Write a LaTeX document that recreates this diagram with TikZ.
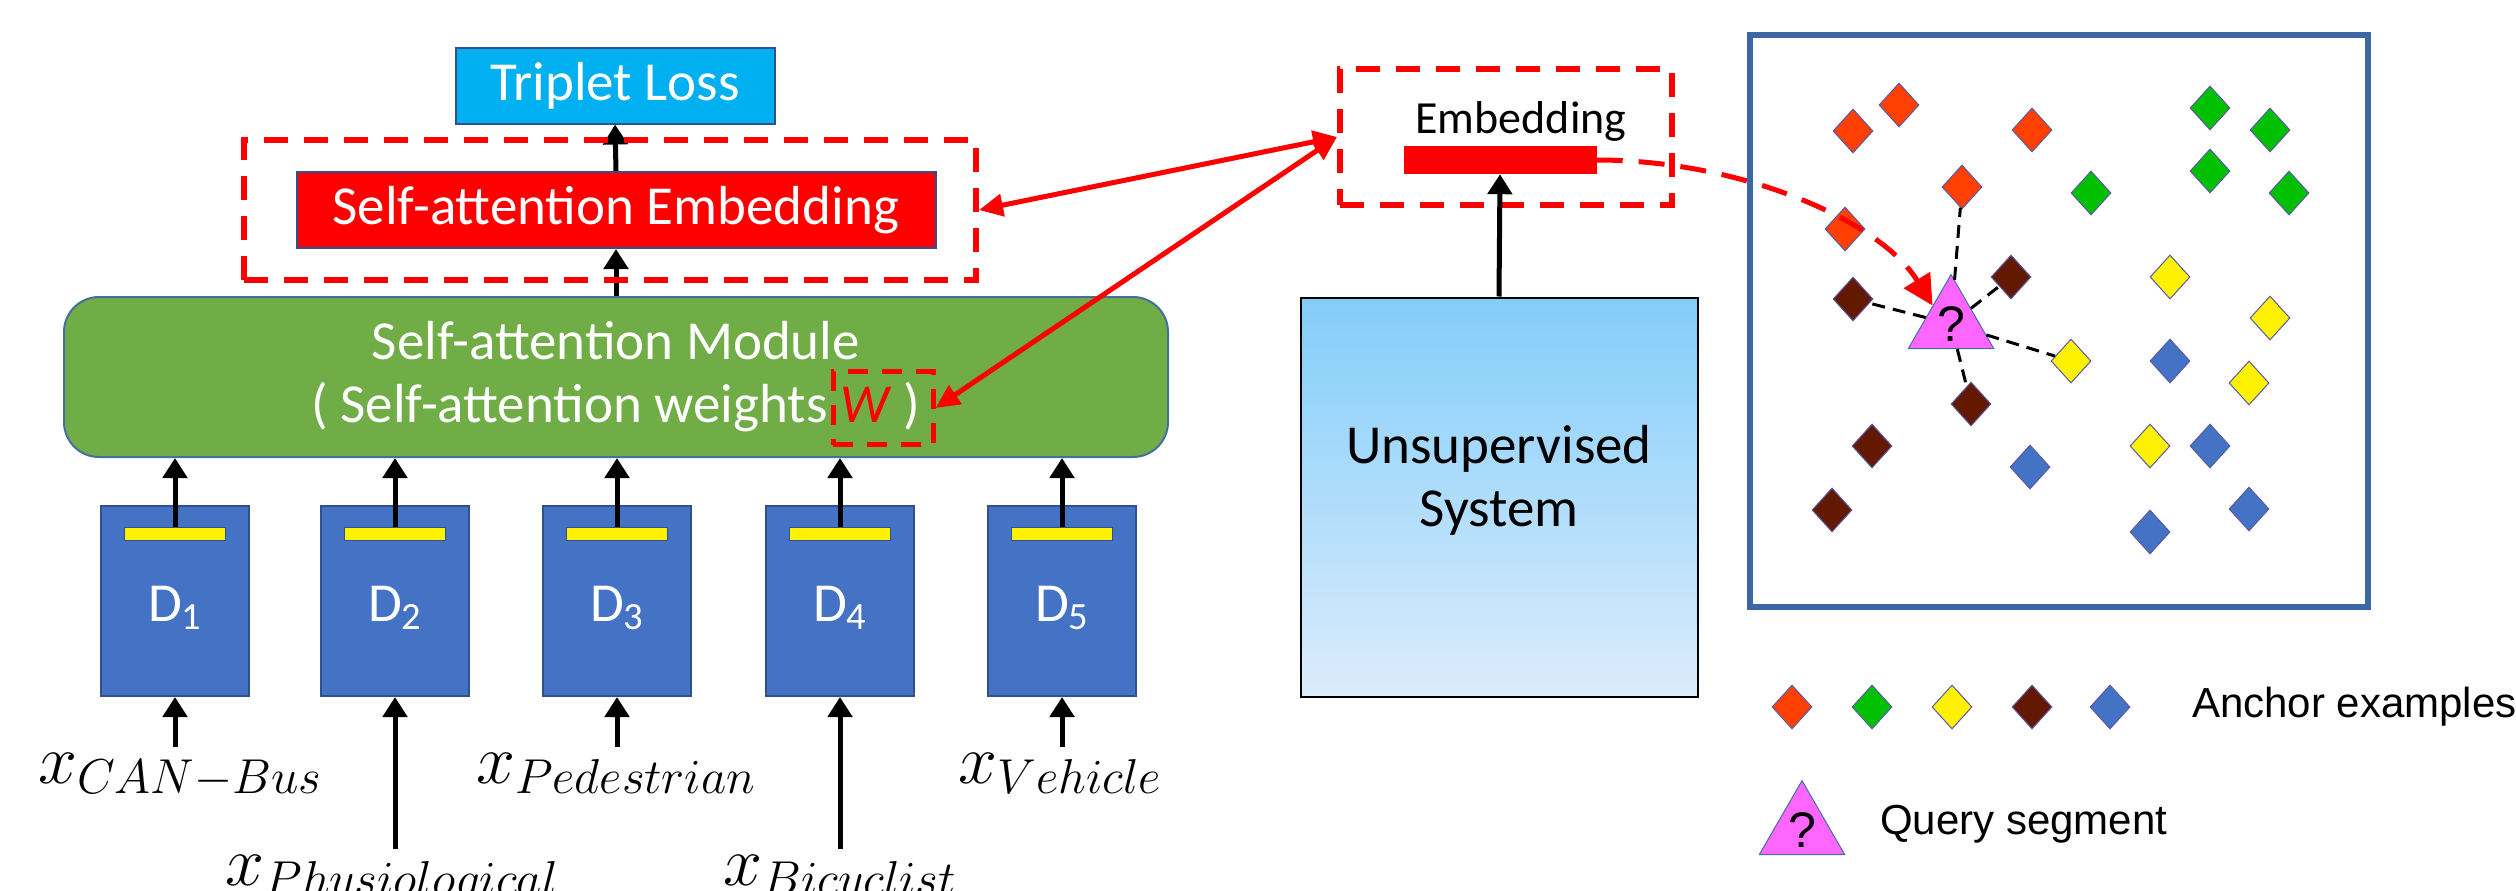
\RequirePackage{fix-cm}
\documentclass[tikz,border=0pt]{standalone}
\usepackage[no-math]{fontspec}
\setmainfont{Carlito}
\newfontfamily\arialfont{Liberation Sans}
\usetikzlibrary{shapes.geometric,arrows.meta}

\definecolor{tripletblue}{RGB}{0,176,240}
\definecolor{boxedge}{RGB}{47,82,143}
\definecolor{modgreen}{RGB}{112,173,71}
\definecolor{modedge}{RGB}{65,113,156}
\definecolor{dblue}{RGB}{68,114,196}
\definecolor{anchorred}{RGB}{255,64,0}
\definecolor{anchorgreen}{RGB}{0,192,0}
\definecolor{anchorbrown}{RGB}{99,25,0}
\definecolor{querypink}{RGB}{255,102,255}
\definecolor{spaceedge}{RGB}{59,104,164}
\definecolor{unsuptop}{RGB}{130,205,250}
\definecolor{unsupbot}{RGB}{220,236,252}

\newcommand{\calsize}{\fontsize{55}{63}\selectfont}
\newcommand{\mathsize}{\fontsize{70}{80}\selectfont}
\newcommand{\legendfont}{\arialfont\fontsize{42}{48}\selectfont}
\newcommand{\qfont}{\arialfont\fontsize{50}{50}\selectfont}

\begin{document}
\begin{tikzpicture}[x=1pt,y=-1pt]
          \tikzstyle{every node} = [inner sep=0pt]
          \tikzstyle{block} = [draw=boxedge, line width=2pt, font=\calsize, text=white]
          \tikzstyle{dashbox} = [draw=red, line width=6pt, dash pattern=on 24pt off 16pt]
          \tikzstyle{flow} = [line width=5pt, -{Triangle[length=20pt,width=24pt]}]
          \tikzstyle{link} = [red, line width=5pt, {Triangle[length=24pt,width=22pt]}-{Triangle[length=24pt,width=22pt]}]
          \tikzstyle{sample} = [diamond, draw=gray!70!blue, line width=1pt, minimum width=40pt, minimum height=44pt]
          \tikzstyle{query} = [regular polygon, regular polygon sides=3, minimum size=90pt, fill=querypink, draw=modedge, line width=1pt, font=\qfont]
          \tikzstyle{near} = [line width=3pt, dash pattern=on 13pt off 8pt]
          \useasboundingbox[fill=white] (0,0) rectangle (2516,891);

          % supervised branch
          \node[block, fill=tripletblue, minimum width=319pt, minimum height=75pt] (loss) at (615,86) {Triplet Loss};
          \node[block, fill=red, minimum width=639pt, minimum height=76pt] (emb) at (616,210) {Self-attention Embedding};
          \node[block, fill=modgreen, draw=modedge, rounded corners=35pt, minimum width=1104pt, minimum height=160pt, align=center] (att) at (616,377)
            {Self-attention Module\\( Self-attention weights \textcolor{red}{\textit{W}} )};
          \path[flow] (emb.north) edge (loss.south);
          \path[flow] (att.north) edge (emb.south);
          \node[dashbox, minimum width=732pt, minimum height=140pt] (embbox) at (610,210) {};
          \node[dashbox, line width=5pt, dash pattern=on 20pt off 14pt, minimum width=100pt, minimum height=73pt] (wbox) at (883,408) {};

          \foreach \i/\x in {1/175,2/395,3/617,4/840,5/1062} {
            \node[block, fill=dblue, minimum width=148pt, minimum height=190pt] (d\i) at (\x,601) {};
            \node[font=\calsize, text=white] (dl\i) at (\x,608) {D\textsubscript{\i}};
            \node[draw=boxedge, line width=1.5pt, fill=yellow, minimum width=101pt, minimum height=13pt] (bar\i) at (\x,534) {};
            \path[flow] (bar\i.north) edge (bar\i.north |- att.south);
          }

          \node[font=\mathsize, anchor=base] (in1) at (180,783) {$x_{CAN-Bus}$};
          \node[font=\mathsize, anchor=base] (in2) at (392,885) {$x_{Physiological}$};
          \node[font=\mathsize, anchor=base] (in3) at (616,783) {$x_{Pedestrian}$};
          \node[font=\mathsize, anchor=base] (in4) at (840,885) {$x_{Bicyclist}$};
          \node[font=\mathsize, anchor=base] (in5) at (1060,783) {$x_{Vehicle}$};
          \foreach \i in {1,...,5}
            \path[flow] ([yshift=6pt]in\i.north -| d\i.south) edge (d\i.south);

          % unsupervised branch
          \node[draw=black, line width=2pt, top color=unsuptop, bottom color=unsupbot, minimum width=397pt, minimum height=399pt] (unsup) at (1499,497) {};
          \node[font=\calsize, align=center] (unsuptext) at (1499,480) {Unsupervised\\System};
          \node[dashbox, minimum width=332pt, minimum height=136pt] (ebox) at (1506,137) {};
          \node[font=\fontsize{46}{50}\selectfont, anchor=base] (etext) at (1521,133) {Embedding};
          \node[fill=red, minimum width=193pt, minimum height=28pt] (ebar) at (1500,160) {};
          \path[flow] (unsup.north) edge (ebar.south);

          \path[link] (embbox.east) edge (ebox.west);
          \path[link] (wbox.east) edge (ebox.west);

          % embedding space
          \node[draw=spaceedge, line width=6pt, minimum width=618pt, minimum height=572pt] (space) at (2059,321) {};
          \foreach \n/\x/\y in {or1/1853/131, or2/1899/105, or3/2032/130, or4/1962/187, or5/1845/229}
            \node[sample, fill=anchorred] (\n) at (\x,\y) {};
          \foreach \n/\x/\y in {gr1/2210/108, gr2/2270/130, gr3/2210/171, gr4/2289/193, gr5/2091/193}
            \node[sample, fill=anchorgreen] (\n) at (\x,\y) {};
          \foreach \n/\x/\y in {br1/1853/299, br2/2011/277, br3/1971/404, br4/1872/446, br5/1832/510}
            \node[sample, fill=anchorbrown] (\n) at (\x,\y) {};
          \foreach \n/\x/\y in {ye1/2170/277, ye2/2270/318, ye3/2071/361, ye4/2249/383, ye5/2150/446}
            \node[sample, fill=yellow] (\n) at (\x,\y) {};
          \foreach \n/\x/\y in {bl1/2170/361, bl2/2210/446, bl3/2030/467, bl4/2249/509, bl5/2150/532}
            \node[sample, fill=dblue] (\n) at (\x,\y) {};
          \node[query] (q) at (1951,324) {?};
          \foreach \n in {or4,br1,br2,br3,ye3}
            \path[near] (q) edge (\n);
          \draw[red, line width=5pt, dash pattern=on 26pt off 16pt, -{Triangle[length=30pt,width=30pt]}]
            (ebar.east) .. controls (1740,160) and (1880,220) .. (q.north west);

          % legend
          \foreach \n/\c/\x in {lr/anchorred/1792, lg/anchorgreen/1872, ly/yellow/1952, lb/anchorbrown/2032, ll/dblue/2110}
            \node[sample, fill=\c] (\n) at (\x,707) {};
          \node[font=\legendfont, anchor=west] (anchortext) at (2192,707) {Anchor examples};
          \node[query, minimum size=94pt] (lq) at (1802,830) {?};
          \node[font=\legendfont, anchor=west] (querytext) at (1880,824) {Query segment};
\end{tikzpicture}
\end{document}
